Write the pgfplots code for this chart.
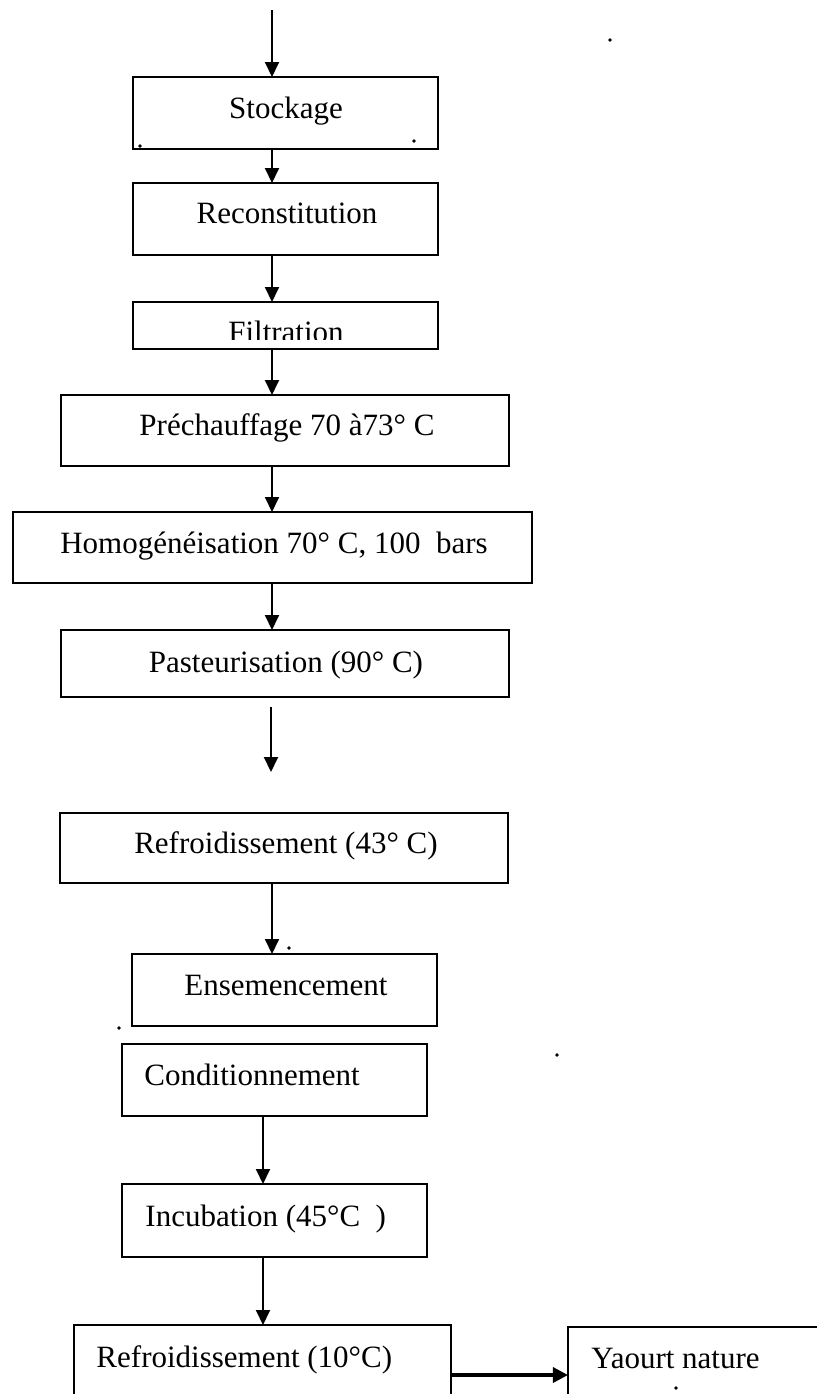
\documentclass[border=0pt]{standalone}
\usepackage{pgfplots}
\pgfplotsset{compat=1.18}
\usepackage{fontspec}
\setmainfont{Liberation Serif}
\usetikzlibrary{arrows.meta}
\begin{document}
\begin{tikzpicture}[
  box/.style={black, line width=0.9pt},
  arr/.style={black, line width=0.75pt, -{Triangle[length=6pt,width=5.6pt]}},
  txt/.style={font=\fontsize{12.4}{14}\selectfont, inner sep=0pt}
]
\begin{axis}[
  scale only axis, width=326.8pt, height=557.6pt,
  xmin=0, xmax=817, ymin=0, ymax=1394, y dir=reverse,
  axis lines=none, clip=true, no markers,
  every axis plot/.append style={black}
]
% arrows
\addplot[arr] coordinates {(272,10) (272,77)};
\addplot[arr] coordinates {(272,149) (272,183)};
\addplot[arr] coordinates {(272,255) (272,302)};
\addplot[arr] coordinates {(272,349) (272,395)};
\addplot[arr] coordinates {(272,466) (272,512)};
\addplot[arr] coordinates {(272,583) (272,630)};
\addplot[arr] coordinates {(271,707) (271,772)};
\addplot[arr] coordinates {(272,883) (272,954)};
\addplot[arr] coordinates {(263,1116) (263,1184)};
\addplot[arr] coordinates {(263,1257) (263,1325)};
\addplot[black, line width=1.3pt, -{Triangle[length=6pt,width=6pt]}] coordinates {(451,1375) (568,1375)};
% boxes
\addplot[box] coordinates {(133,77) (438,77) (438,149) (133,149)} -- cycle;
\addplot[box] coordinates {(133,183) (438,183) (438,255) (133,255)} -- cycle;
\addplot[box] coordinates {(133,302) (438,302) (438,349) (133,349)} -- cycle;
\addplot[box] coordinates {(61,395) (509,395) (509,466) (61,466)} -- cycle;
\addplot[box] coordinates {(13,512) (532,512) (532,583) (13,583)} -- cycle;
\addplot[box] coordinates {(61,630) (509,630) (509,697) (61,697)} -- cycle;
\addplot[box] coordinates {(60,813) (508,813) (508,883) (60,883)} -- cycle;
\addplot[box] coordinates {(132,954) (437,954) (437,1026) (132,1026)} -- cycle;
\addplot[box] coordinates {(122,1044) (427,1044) (427,1116) (122,1116)} -- cycle;
\addplot[box] coordinates {(122,1184) (427,1184) (427,1257) (122,1257)} -- cycle;
\addplot[box] coordinates {(74,1420) (74,1325) (451,1325) (451,1420)};
\addplot[box] coordinates {(830,1327) (568,1327) (568,1420)};
% specks of the scan
\addplot[only marks, mark=*, mark size=0.5pt, black] coordinates {(610,40) (557,1055) (119,1028) (289,948) (676,1388) (414,141) (140,146)};
% texts
\node[txt, anchor=base] at (axis cs:286,118) {Stockage};
\node[txt, anchor=base] at (axis cs:287,223) {Reconstitution};
\node[txt, anchor=base] at (axis cs:286,342.5) {Filtration};
\addplot[draw=none, fill=white] coordinates {(200,340) (380,340) (380,347.5) (200,347.5)} -- cycle;
\node[txt, anchor=base] at (axis cs:287,435) {Préchauffage 70 à73° C};
\node[txt, anchor=base] at (axis cs:274,553) {Homogénéisation 70° C, 100\ \ bars};
\node[txt, anchor=base] at (axis cs:286,672) {Pasteurisation (90° C)};
\node[txt, anchor=base] at (axis cs:286,853) {Refroidissement (43° C)};
\node[txt, anchor=base] at (axis cs:286,995) {Ensemencement};
\node[txt, anchor=base west] at (axis cs:144,1085) {Conditionnement};
\node[txt, anchor=base west] at (axis cs:145,1226) {Incubation (45°C\ \ )};
\node[txt, anchor=base west] at (axis cs:96,1367) {Refroidissement (10°C)};
\node[txt, anchor=base west] at (axis cs:591,1368) {Yaourt nature};
\end{axis}
\pgfresetboundingbox
\useasboundingbox (current axis.south west) rectangle (current axis.north east);
\end{tikzpicture}
\end{document}
